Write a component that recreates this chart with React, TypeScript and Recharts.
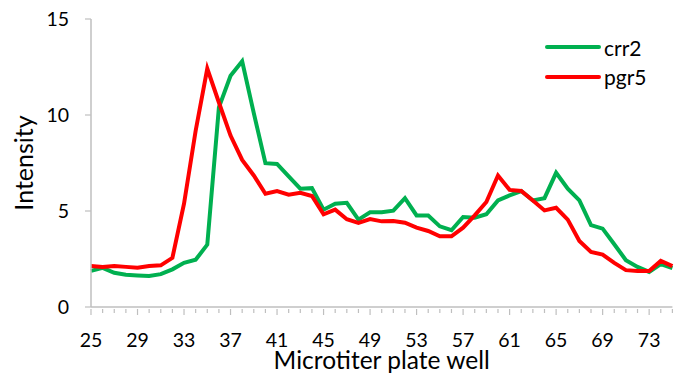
import { LineChart, Line, XAxis, YAxis } from 'recharts'

// Wells 25..75, one reading per well
const wells = [
  25, 26, 27, 28, 29, 30, 31, 32, 33, 34, 35, 36, 37, 38, 39, 40, 41, 42, 43, 44,
  45, 46, 47, 48, 49, 50, 51, 52, 53, 54, 55, 56, 57, 58, 59, 60, 61, 62, 63, 64,
  65, 66, 67, 68, 69, 70, 71, 72, 73, 74, 75,
]

const crr2 = [
  1.88, 2.04, 1.78, 1.68, 1.64, 1.61, 1.71, 1.96, 2.3, 2.46, 3.25, 10.4, 12.04, 12.8, 10.1, 7.49, 7.45, 6.8, 6.16, 6.19,
  5.07, 5.38, 5.43, 4.55, 4.93, 4.93, 5.02, 5.67, 4.77, 4.76, 4.2, 4.0, 4.69, 4.65, 4.83, 5.55, 5.81, 6.04, 5.55, 5.67,
  6.99, 6.16, 5.55, 4.26, 4.08, 3.27, 2.44, 2.09, 1.83, 2.23, 2.02,
]

const pgr5 = [
  2.14, 2.09, 2.14, 2.09, 2.04, 2.14, 2.17, 2.56, 5.38, 9.18, 12.42, 10.65, 8.93, 7.66, 6.85, 5.9, 6.04, 5.85, 5.95, 5.78,
  4.83, 5.07, 4.57, 4.38, 4.58, 4.46, 4.48, 4.39, 4.13, 3.96, 3.68, 3.68, 4.13, 4.77, 5.47, 6.85, 6.1, 6.04, 5.55, 5.03,
  5.17, 4.55, 3.44, 2.87, 2.73, 2.3, 1.92, 1.88, 1.88, 2.4, 2.13,
]

const xLabels = [25, 29, 33, 37, 41, 45, 49, 53, 57, 61, 65, 69, 73]
const yTicks = [0, 5, 10, 15]

const series = [
  { key: 'crr2', name: 'crr2', color: '#00B050' },
  { key: 'pgr5', name: 'pgr5', color: '#FF0000' },
]

const data = wells.map((w, i) => ({ well: w, crr2: crr2[i], pgr5: pgr5[i] }))

const FONT = 'Lato, "Open Sans", sans-serif'
const AXIS = '#BFBFBF'

function WellTick({ x, y, payload }: any) {
  const major = xLabels.includes(payload.value)
  return (
    <g>
      <line x1={x} x2={x} y1={y} y2={y + (major ? 6 : 4)} stroke={AXIS} strokeWidth={1.2} />
      {major && (
        <text x={x} y={y + 38} textAnchor="middle" fontSize={19.5} fill="#000" fontFamily={FONT}>
          {payload.value}
        </text>
      )}
    </g>
  )
}

// legend drawn over the plot, top right
function SeriesLegend() {
  return (
    <div style={{ position: 'absolute', left: 544, top: 32.5, fontFamily: FONT, fontSize: 21 }}>
      {series.map((s) => (
        <div key={s.key} style={{ display: 'flex', alignItems: 'center', height: 29.5 }}>
          <svg width={60} height={8}>
            <line x1={3} x2={55} y1={4} y2={4} stroke={s.color} strokeWidth={4} strokeLinecap="round" />
          </svg>
          <span>{s.name}</span>
        </div>
      ))}
    </div>
  )
}

export default function App() {
  return (
    <div style={{ position: 'absolute', left: 0, top: 0, width: 674, height: 374, background: '#fff' }}>
      <LineChart width={674} height={374} data={data} margin={{ top: 19, right: 1.6, bottom: 0, left: 0 }}>
        <XAxis
          dataKey="well"
          type="number"
          domain={[25, 75]}
          ticks={wells}
          interval={0}
          tick={<WellTick />}
          tickLine={false}
          tickSize={0}
          height={67}
          axisLine={{ stroke: AXIS, strokeWidth: 1.5 }}
          label={{ value: 'Microtiter plate well', position: 'insideBottom', offset: 5, fontSize: 24.5, fill: '#000', fontFamily: FONT }}
        />
        <YAxis
          domain={[0, 15]}
          ticks={yTicks}
          width={91}
          tickSize={6}
          tickMargin={16}
          tick={{ fontSize: 19.5, fill: '#000', fontFamily: FONT }}
          tickLine={{ stroke: AXIS, strokeWidth: 1.2 }}
          axisLine={{ stroke: AXIS, strokeWidth: 1.5 }}
          label={{ value: 'Intensity', angle: -90, position: 'insideLeft', offset: 24, fontSize: 25, fill: '#000', fontFamily: FONT, style: { textAnchor: 'middle' } }}
        />
        {series.map((s) => (
          <Line
            key={s.key}
            dataKey={s.key}
            name={s.name}
            stroke={s.color}
            strokeWidth={4}
            dot={false}
            isAnimationActive={false}
            strokeLinejoin="miter"
          />
        ))}
      </LineChart>
      <SeriesLegend />
    </div>
  )
}
